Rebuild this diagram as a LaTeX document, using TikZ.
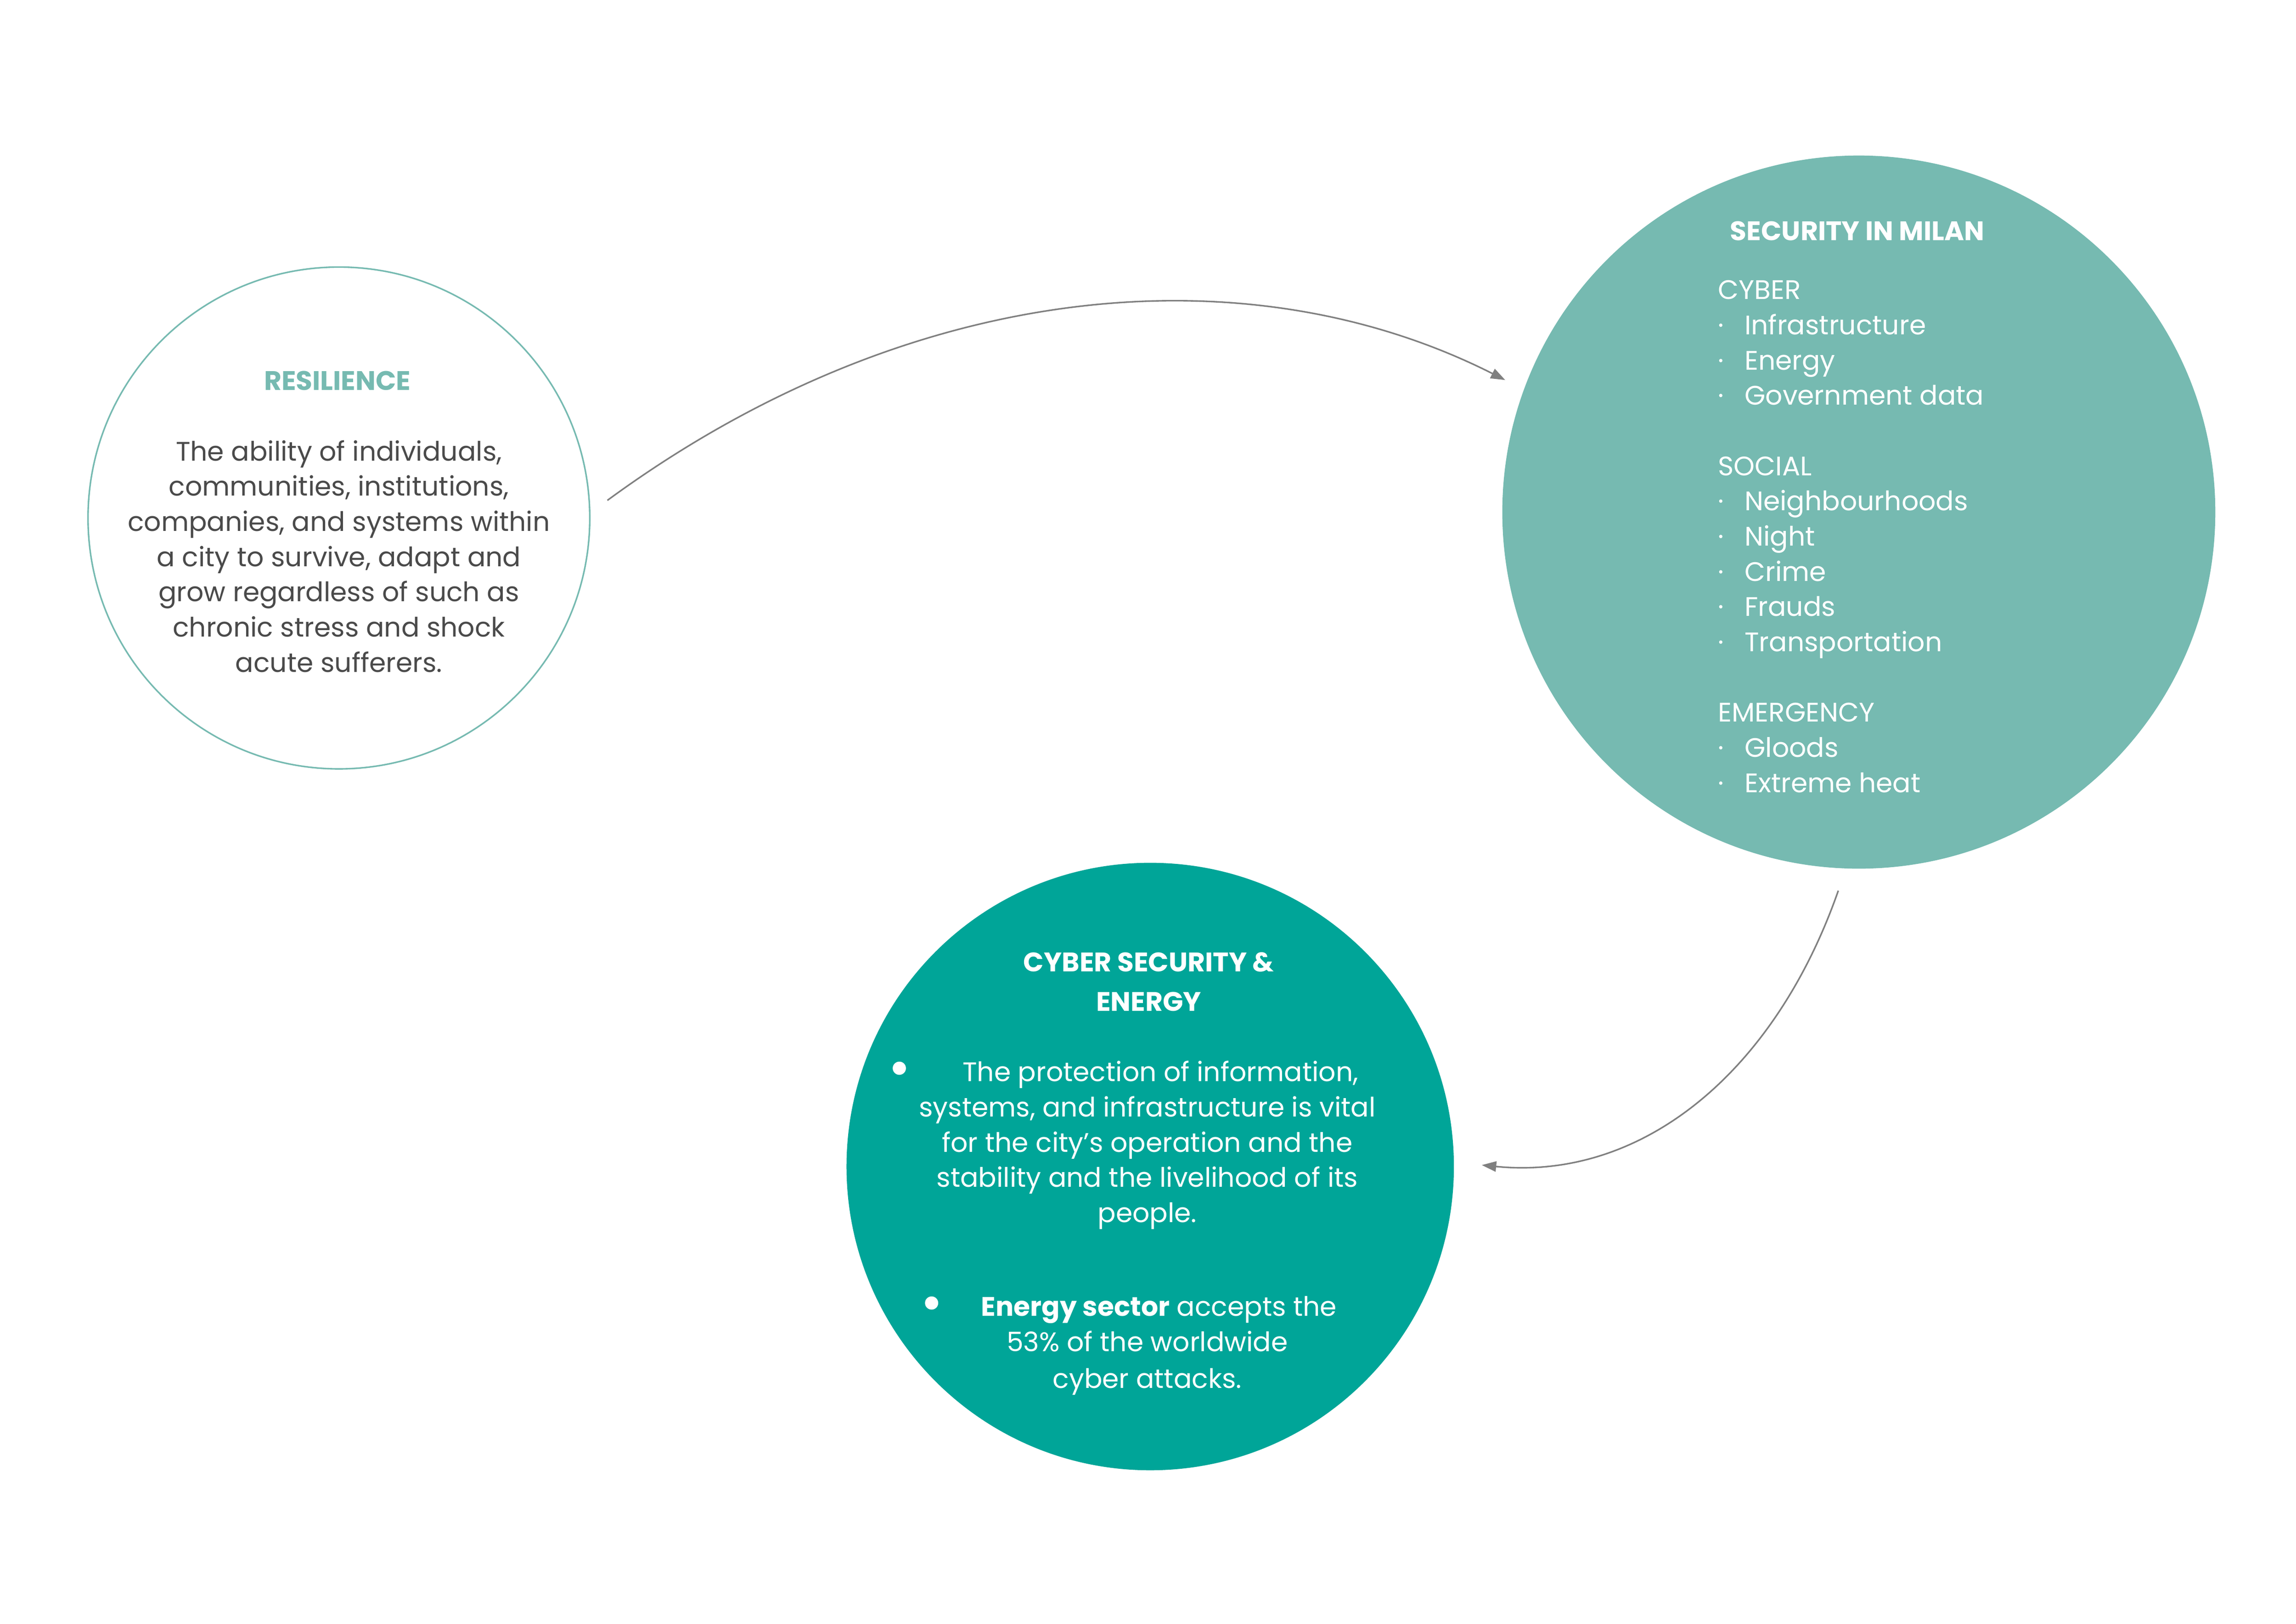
\documentclass[tikz,border=0pt]{standalone}
\usepackage{fontspec}
\setmainfont{Poppins}
\usetikzlibrary{arrows.meta}
\definecolor{lteal}{HTML}{76BAB1}
\definecolor{dteal}{HTML}{00A598}
\definecolor{txt}{HTML}{4A4A4A}
\definecolor{arr}{HTML}{808080}
\tikzset{
 t/.style={font=\fontsize{26}{31}\selectfont, inner sep=0pt, anchor=base},
 tl/.style={t, anchor=base west},
 conn/.style={draw=arr, line width=1.5pt, -{Triangle[length=14pt,width=10pt]}}
}
\begin{document}
\begin{tikzpicture}[x=0.05cm,y=-0.05cm]
\useasboundingbox (0,0) rectangle (1565,1106.6);
\node[circle, draw=lteal, line width=1.5pt, minimum size=342*0.05cm, inner sep=0pt] (res) at (231,353) {};
\node[circle, fill=lteal, minimum size=486*0.05cm, inner sep=0pt] (sec) at (1267,349) {};
\node[circle, fill=dteal, minimum size=414*0.05cm, inner sep=0pt] (cyb) at (784,795) {};
% Resilience
\node[t, text=lteal, font=\fontsize{26}{31}\selectfont\bfseries] (rt) at (230,266) {RESILIENCE};
\foreach \s [count=\i] in {The ability of individuals{,},communities{,} institutions{,},companies{,} and systems within,a city to survive{,} adapt and,grow regardless of such as,chronic stress and shock,acute sufferers.}
  \node[t, text=txt] (r\i) at (231,314+24*\i-24) {\s};
% Security
\node[t, text=white, font=\fontsize{26}{31}\selectfont\bfseries] (st) at (1266,164) {SECURITY IN MILAN};
\foreach \s/\y in {CYBER/204,SOCIAL/324,EMERGENCY/492}
  \node[tl, text=white] at (1171,\y) {\s};
\foreach \s/\y in {Infrastructure/228,Energy/252,Government data/276,Neighbourhoods/348,Night/372,Crime/396,Frauds/420,Transportation/444,Gloods/516,Extreme heat/540}{
  \node[tl, text=white] at (1171,\y) {·};
  \node[tl, text=white] at (1189,\y) {\s};}
% Cyber
\node[t, text=white, font=\fontsize{26}{31}\selectfont\bfseries] (c1) at (783,662) {CYBER SECURITY \&};
\node[t, text=white, font=\fontsize{26}{31}\selectfont\bfseries] (c2) at (783,689) {ENERGY};
\fill[white] (613,728) circle (4.5);
\node[t, text=white] at (782,737) {\hspace{0.9cm}The protection of information,};
\foreach \s/\y in {{systems, and infrastructure is vital}/761,{for the city’s operation and the}/785,{stability and the livelihood of its}/809,{people.}/833}
  \node[t, text=white] at (782,\y) {\s};
\fill[white] (635,888) circle (4.5);
\node[t, text=white] at (790,897) {\textbf{Energy sector} accepts the};
\node[t, text=white] at (782,921) {53\% of the worldwide};
\node[t, text=white] at (782,946) {cyber attacks.};
% arrows
\coordinate (a1s) at (414,341); \coordinate (a1e) at (1026,259);
\coordinate (a2s) at (1253,607); \coordinate (a2e) at (1010,794);
\draw[conn] (a1s) .. controls (620,190) and (850,170) .. (a1e);
\draw[conn] (a2s) .. controls (1210,730) and (1120,805) .. (a2e);
\end{tikzpicture}
\end{document}
